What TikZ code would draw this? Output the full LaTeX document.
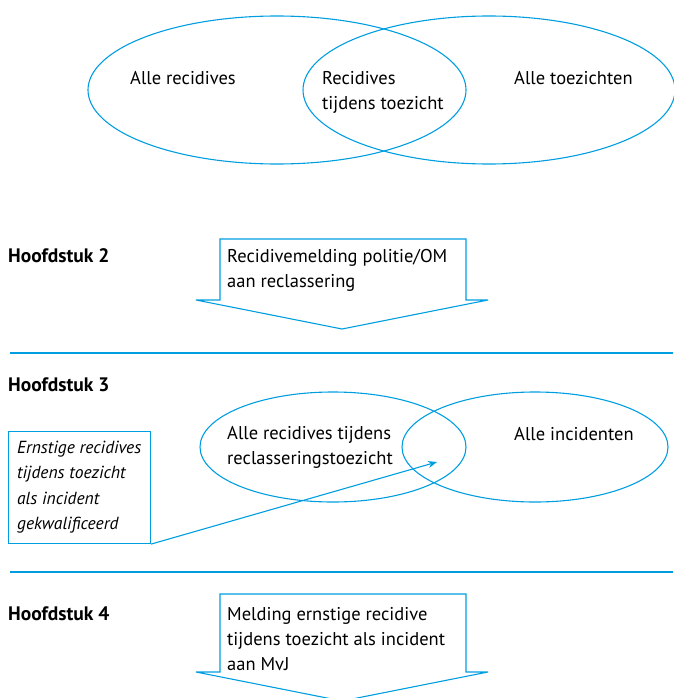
\documentclass[tikz,border=0pt]{standalone}
\usepackage{fontspec}
\setmainfont{PT Sans}
\usepackage{tikz}
\usetikzlibrary{positioning}
\usetikzlibrary{arrows,arrows.meta,shapes}
\usetikzlibrary{shapes.geometric}
\usetikzlibrary{calc}
\definecolor{rijksblauw}{RGB}{0,158,224}
\tikzstyle{venn}=[ellipse,draw=rijksblauw,line width=1.1pt,inner sep=0pt]
\tikzstyle{tekst}=[anchor=base west,inner sep=0pt,align=left,font=\fontsize{18.5}{25}\selectfont]
\tikzstyle{kop}=[anchor=base west,inner sep=0pt,font=\fontsize{19.5}{25}\selectfont\bfseries]
\tikzstyle{scheiding}=[draw=rijksblauw,line width=2.5pt]
\tikzstyle{pijlvak}=[draw=rijksblauw,line width=1.1pt,line join=miter]
\tikzstyle{kader}=[draw=rijksblauw,line width=1.1pt,anchor=north west,minimum width=142pt,minimum height=112pt,inner sep=0pt]
\tikzstyle{edge}=[draw=rijksblauw,line width=1.1pt,-{Stealth[length=9pt,width=7pt]}]

\begin{document}
\begin{tikzpicture}[x=1pt,y=-1pt]
    \useasboundingbox (0,0) rectangle (673,698);

    % First the two Venn diagrams
    \node[venn,minimum width=378pt,minimum height=148pt] (recidives) at (277,90) {};
    \node[venn,minimum width=372pt,minimum height=148pt] (toezichten) at (489,90) {};
    \node[venn,minimum width=266pt,minimum height=110pt] (tijdens) at (333,447) {};
    \node[venn,minimum width=266pt,minimum height=110pt] (incidenten) at (535,447) {};

    % texts, placed at the baseline of their last line
    \foreach \pos/\name/\txt in {{(130,85)/t1/Alle recidives}, {(322,110)/t2/Recidives\\tijdens toezicht}, {(514,85)/t3/Alle toezichten},
        {(227,464)/t4/Alle recidives tijdens\\reclasseringstoezicht}, {(514,440)/t5/Alle incidenten}}
        \node[tekst] (\name) at \pos {\txt};

    % chapter headings and rules
    \foreach \y/\name/\nr in {262/h2/2, 391/h3/3, 620/h4/4}
        \node[kop] (\name) at (8,\y) {Hoofdstuk \nr};
    \foreach \y in {353, 572}
        \path[scheiding] (10,\y) -- (673,\y);

    % block arrows
    \foreach \top/\bot in {239/300, 594/672}
        \path[pijlvak] (220,\top) -- (466,\top) -- (466,\bot) -- (488,\bot) -- (342,\bot+29) -- (196,\bot) -- (220,\bot) -- cycle;

    \node[tekst] (melding1) at (227,287) {Recidivemelding politie/OM\\aan reclassering};
    \node[tekst] (melding2) at (227,670) {Melding ernstige recidive\\tijdens toezicht als incident\\aan MvJ};

    % box with pointer into the overlap
    \node[kader] (ernstig) at (8,431) {};
    \node[tekst,font=\fontsize{17.5}{25.5}\selectfont\itshape] (ernstigtxt) at (17,529.5) {Ernstige recidives\\tijdens toezicht\\als incident\\gekwalificeerd};
    \coordinate (overlap) at (437,462);
    \path[edge] (ernstig.south east) -- (overlap);
\end{tikzpicture}
\end{document}
